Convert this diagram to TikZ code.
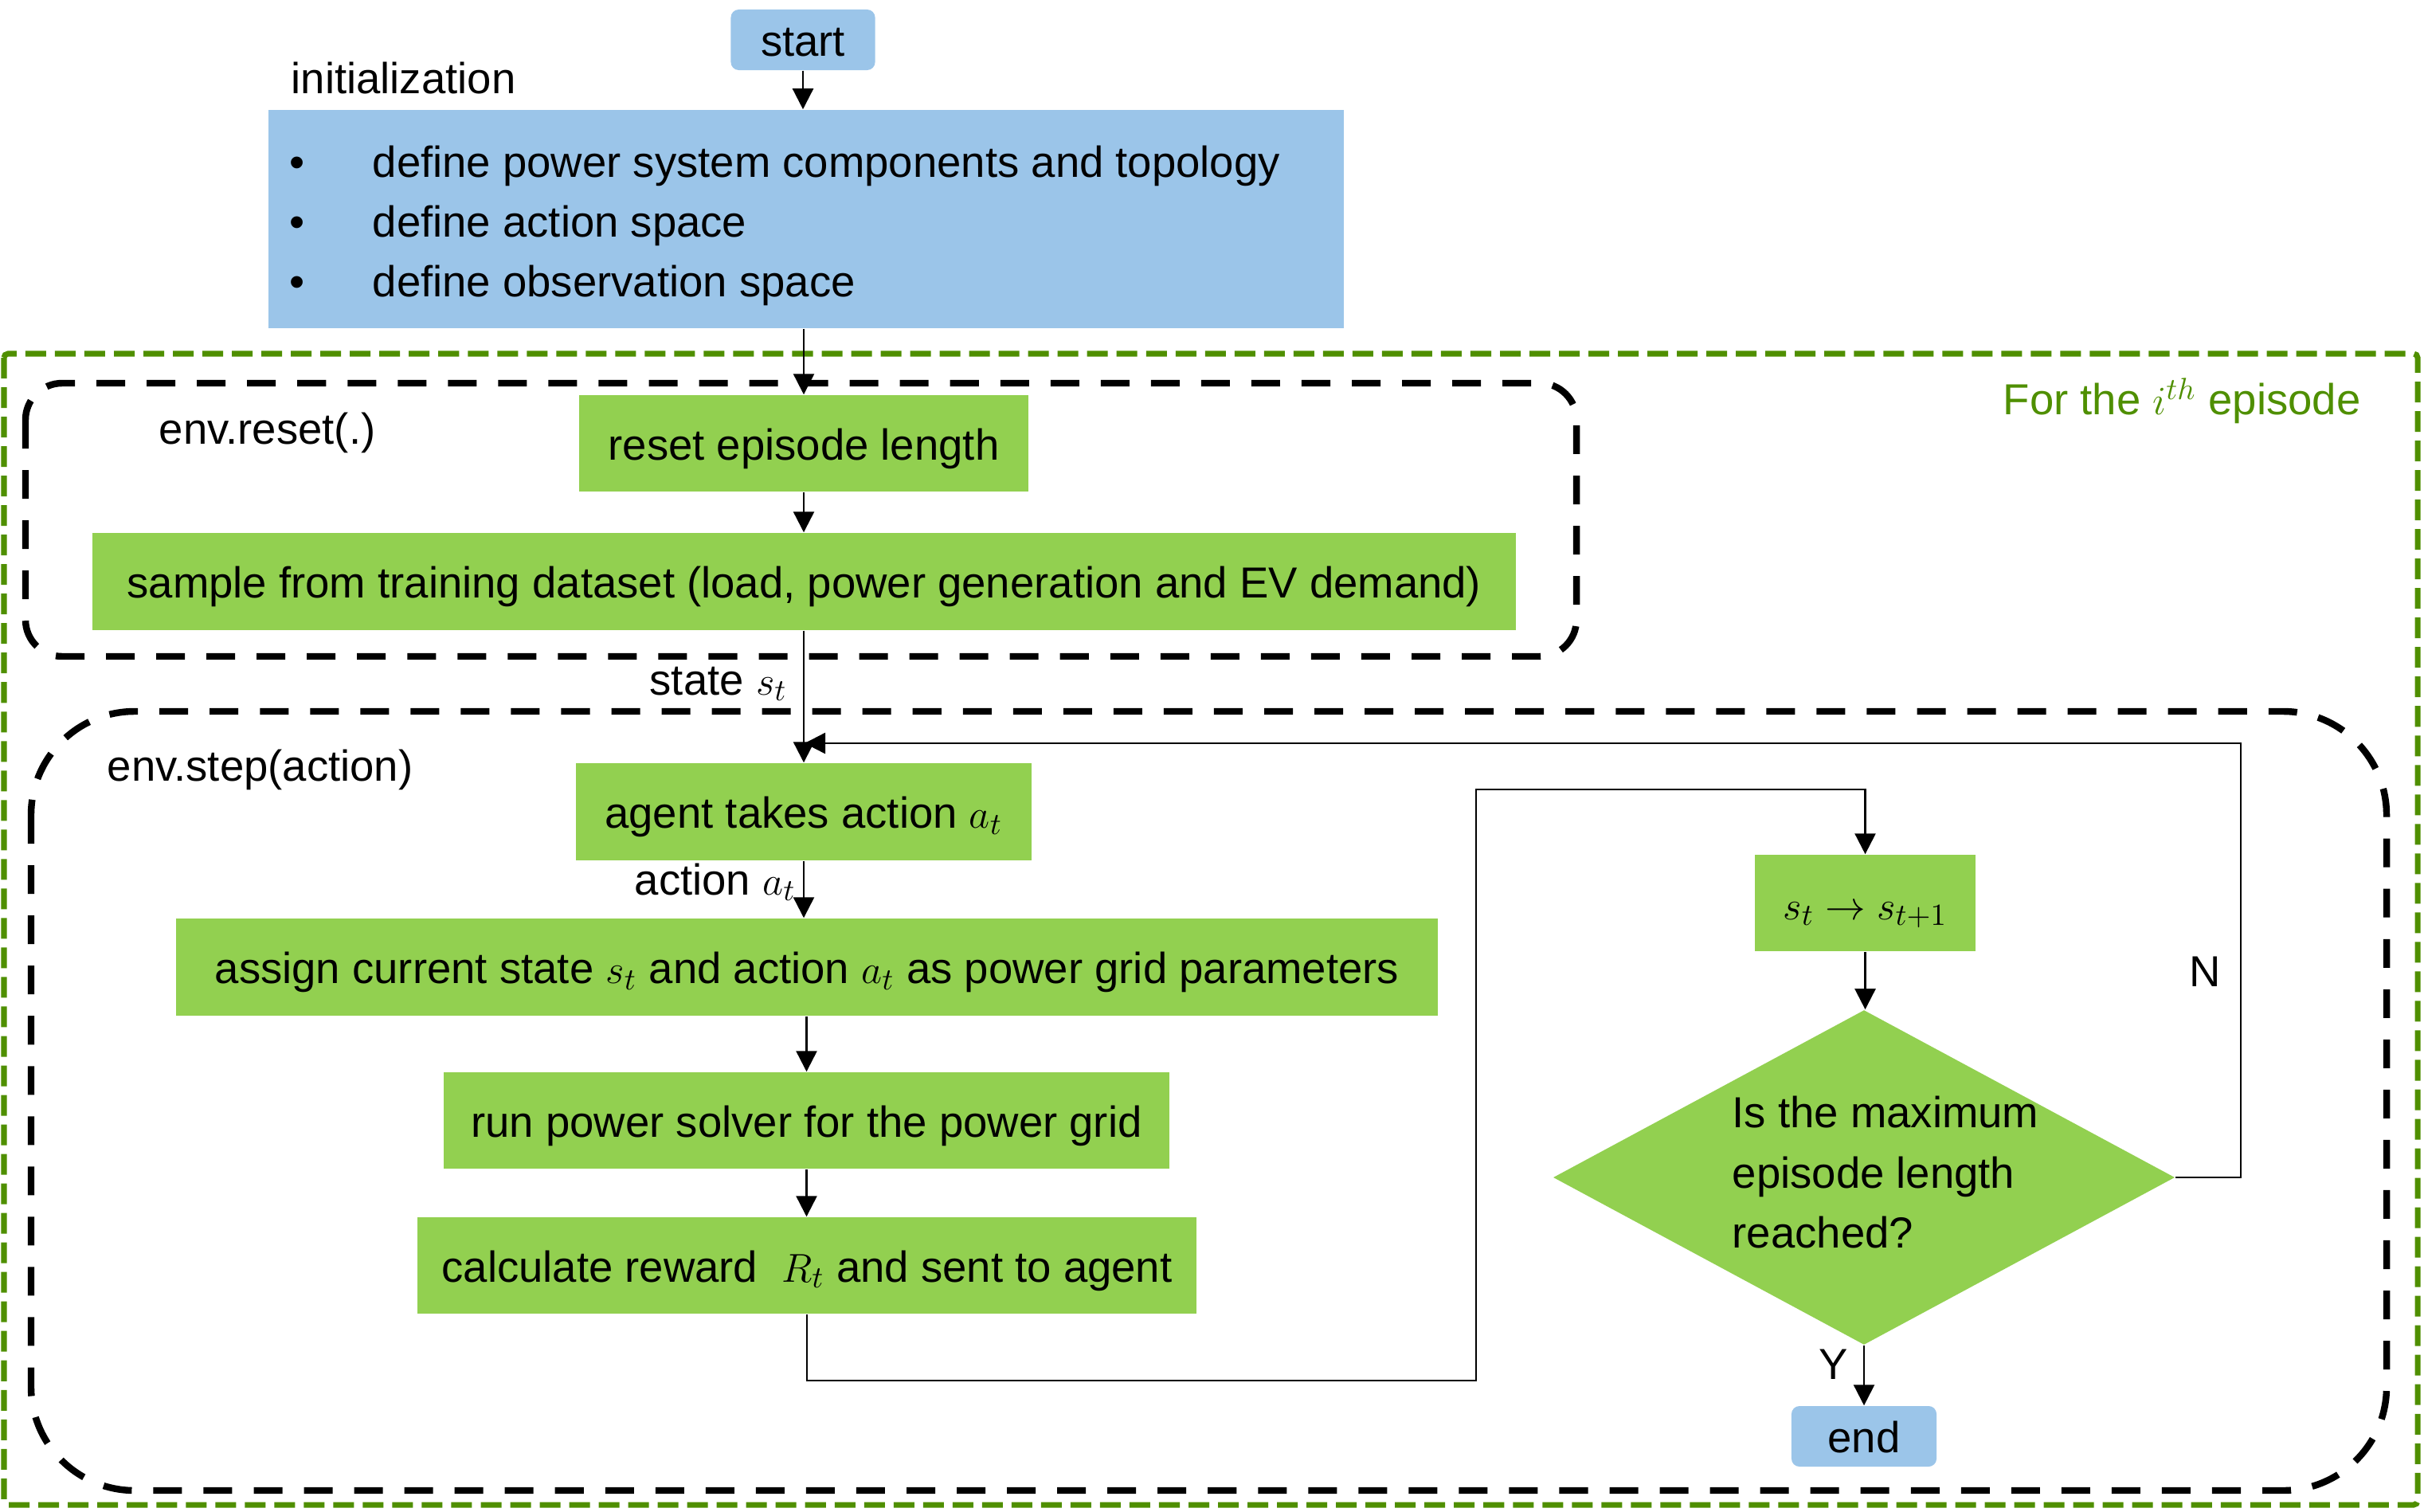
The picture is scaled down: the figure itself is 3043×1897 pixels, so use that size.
\documentclass[tikz,border=0pt]{standalone}
\usepackage{fontspec}
\setmainfont{Liberation Sans}
\usetikzlibrary{arrows.meta,shapes.geometric}
\definecolor{boxgreen}{HTML}{92D050}
\definecolor{boxblue}{HTML}{9BC5E9}
\definecolor{framegreen}{HTML}{4F8F00}
\begin{document}
\begin{tikzpicture}[x=0.01cm,y=-0.01cm,
  every node/.style={font=\fontsize{15.5}{18.6}\selectfont, inner sep=0pt},
  gbox/.style={fill=boxgreen, text height=0.41cm, text depth=0pt},
  bbox/.style={fill=boxblue, rounded corners=0.1cm, text height=0.41cm, text depth=0pt},
  conn/.style={line width=0.7pt, -{Triangle[length=0.26cm,width=0.26cm]}},
  wire/.style={line width=0.7pt},
  lbl/.style={anchor=base west},
  gframe/.style={draw=framegreen, line width=2pt, dash pattern=on 0.26cm off 0.11cm, rounded corners=0.05cm},
  kframe/.style={draw=black, line width=2.4pt, dash pattern=on 0.36cm off 0.27cm}]
\useasboundingbox (0,0) rectangle (3043,1897);

% frames
\draw[gframe] (5,444) rectangle (3035,1889);
\draw[kframe, rounded corners=0.46cm] (32,481) rectangle (1979,824);
\draw[kframe, rounded corners=1.3cm] (39,893) rectangle (2996,1871);
\node[lbl, text=framegreen] (eplbl) at (2514,520) {For the $i^{th}$ episode};
\node[lbl] (resetlbl) at (199,557) {env.reset(.)};
\node[lbl] (steplbl) at (134,980) {env.step(action)};

% top part
\node[bbox, minimum width=1.81cm, minimum height=0.76cm] (start) at (1008,50) {start};
\node[lbl] (initlbl) at (365,118) {initialization};
\node[fill=boxblue, minimum width=13.5cm, minimum height=2.74cm] (init) at (1012,275) {};
\node[lbl] (bu1) at (363,222) {•};
\node[lbl] (bu2) at (363,297) {•};
\node[lbl] (bu3) at (363,372) {•};
\node[lbl] (it1) at (467,222) {define power system components and topology};
\node[lbl] (it2) at (467,297) {define action space};
\node[lbl] (it3) at (467,372) {define observation space};

% reset part
\node[gbox, minimum width=5.64cm, minimum height=1.21cm] (reset) at (1009,556.5) {reset episode length};
\node[gbox, minimum width=17.85cm, minimum height=1.22cm] (sample) at (1009.5,730) {sample from training dataset (load, power generation and EV demand)};

% step part
\node[gbox, minimum width=5.72cm, minimum height=1.22cm] (agent) at (1009,1019) {agent takes action $a_t$};
\node[gbox, minimum width=15.84cm, minimum height=1.22cm] (assign) at (1013,1214) {assign current state $s_t$ and action $a_t$ as power grid parameters};
\node[gbox, minimum width=9.11cm, minimum height=1.21cm] (run) at (1012.5,1406.5) {run power solver for the power grid};
\node[gbox, minimum width=9.78cm, minimum height=1.21cm] (calc) at (1013,1588.5) {calculate reward~~$R_t$ and sent to agent};
\node[gbox, minimum width=2.77cm, minimum height=1.21cm] (st) at (2341.5,1133.5) {$s_t \rightarrow s_{t+1}$};
\node[diamond, fill=boxgreen, minimum width=7.8cm, minimum height=4.2cm, aspect=1.857] (dec) at (2340,1478) {};
\node[lbl] (dq1) at (2174,1415) {Is the maximum};
\node[lbl] (dq2) at (2174,1491) {episode length};
\node[lbl] (dq3) at (2174,1566) {reached?};
\node[bbox, minimum width=1.82cm, minimum height=0.76cm] (end) at (2340,1803) {end};

% labels
\node[lbl] (statelbl) at (815,872) {state $s_t$};
\node[lbl] (actlbl) at (796,1123) {action $a_t$};
\node[lbl] (nlbl) at (2748,1238) {N};
\node[lbl] (ylbl) at (2283,1731) {Y};

% connectors
\draw[conn] (start.south) -- (start.south |- init.north);
\draw[conn] (init.south -| reset.north) -- (reset.north);
\draw[conn] (reset.south) -- (reset.south |- sample.north);
\draw[conn] (agent.north |- sample.south) -- (agent.north);
\draw[conn] (agent.south) -- (agent.south |- assign.north);
\draw[conn] (assign.south -| run.north) -- (run.north);
\draw[conn] (run.south) -- (run.south |- calc.north);
\coordinate (c1) at (1013,1733);
\coordinate (c2) at (1853,1733);
\coordinate (c3) at (1853,991);
\draw[conn] (calc.south) -- (c1) -- (c2) -- (c3) -| (st.north);
\draw[conn] (st.south) -- (st.south |- dec.north);
\draw[conn] (dec.south) -- (end.north);
\coordinate (n1) at (2813,1478);
\coordinate (n2) at (2813,933);
\coordinate (n3) at (1010,933);
\draw[conn] (dec.east) -- (n1) -- (n2) -- (n3);
\end{tikzpicture}
\end{document}
